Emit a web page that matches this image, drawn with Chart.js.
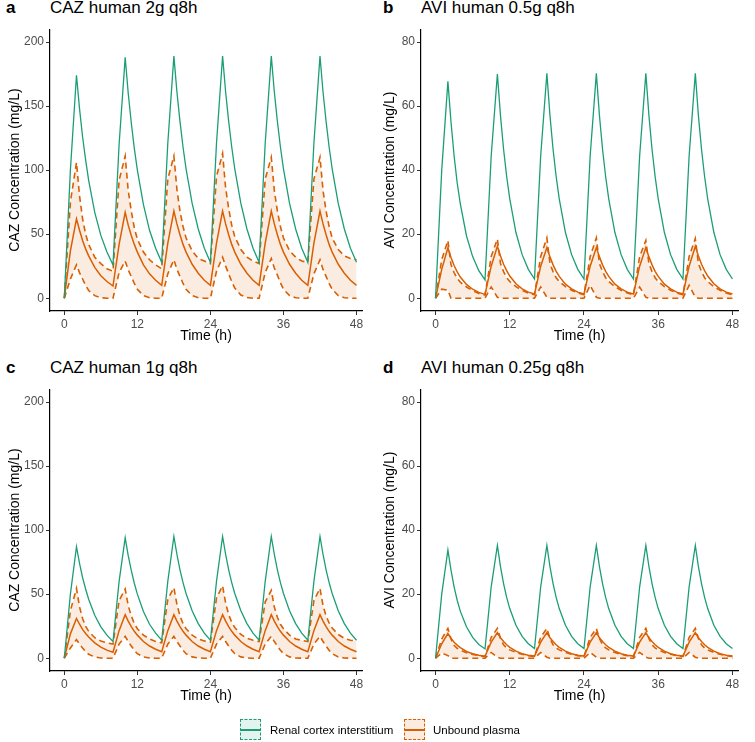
<!DOCTYPE html>
<html>
<head>
<meta charset="utf-8">
<script src="https://cdn.jsdelivr.net/npm/chart.js@4.4.1/dist/chart.umd.min.js"></script>
<style>
  body { margin: 0; background: #fff; font-family: "Liberation Sans", Arial, sans-serif; }
  #page { position: relative; width: 755px; height: 742px; overflow: hidden; }
  canvas { position: absolute; }
  .tag { position: absolute; font-size: 17px; line-height: 16px; font-weight: bold; color: #000; }
  .ttl { position: absolute; font-size: 17px; line-height: 16px; color: #000; white-space: nowrap; }
  .key { position: absolute; width: 19px; height: 19px; border: 1.5px dashed; }
  .key i { position: absolute; left: 0; right: 0; top: 9px; height: 1.5px; }
  .lab { position: absolute; top: 723px; font-size: 11.5px; line-height: 14px; color: #000; white-space: nowrap; }
</style>
</head>
<body>
<div id="page">
  <div class="tag" style="left:6px;top:0px">a</div>
  <div class="ttl" style="left:50px;top:0px">CAZ human 2g q8h</div>
  <div class="tag" style="left:383px;top:0px">b</div>
  <div class="ttl" style="left:421px;top:0px">AVI human 0.5g q8h</div>
  <div class="tag" style="left:6px;top:359.5px">c</div>
  <div class="ttl" style="left:50px;top:359.5px">CAZ human 1g q8h</div>
  <div class="tag" style="left:383px;top:359.5px">d</div>
  <div class="ttl" style="left:421px;top:359.5px">AVI human 0.25g q8h</div>

  <canvas id="pa" width="377" height="340" style="left:0px;top:20px"></canvas>
  <canvas id="pb" width="378" height="340" style="left:377px;top:20px"></canvas>
  <canvas id="pc" width="377" height="340" style="left:0px;top:380px"></canvas>
  <canvas id="pd" width="378" height="340" style="left:377px;top:380px"></canvas>

  <div class="key" style="left:240px;top:719px;border-color:#1b9e77;background:rgba(27,158,119,0.12)"><i style="background:#1b9e77"></i></div>
  <div class="lab" style="left:270px">Renal cortex interstitium</div>
  <div class="key" style="left:404px;top:719px;border-color:#d95f02;background:rgba(217,95,2,0.12)"><i style="background:#d95f02"></i></div>
  <div class="lab" style="left:433px">Unbound plasma</div>
</div>
<script>
// sampling times (h); denser just after each peak where the curves bend most
const hours = [0, 1, 2, 2.5, 3, 3.5, 4, 5, 6, 7,
  8, 9, 10, 10.5, 11, 11.5, 12, 13, 14, 15,
  16, 17, 18, 18.5, 19, 19.5, 20, 21, 22, 23,
  24, 25, 26, 26.5, 27, 27.5, 28, 29, 30, 31,
  32, 33, 34, 34.5, 35, 35.5, 36, 37, 38, 39,
  40, 41, 42, 42.5, 43, 43.5, 44, 45, 46, 47,
  48];
const xTicks = [0, 12, 24, 36, 48];
const cazTicks = [0, 50, 100, 150, 200];
const aviTicks = [0, 20, 40, 60, 80];

// CAZ 2g q8h
const caz2gRenal = [0, 100, 174, 148, 126, 108, 92, 67, 49, 36,
  26, 120, 188, 160, 137, 117, 100, 73, 53, 39,
  28, 121, 189, 161, 138, 118, 101, 74, 54, 39,
  28, 121, 189, 161, 138, 118, 101, 74, 54, 39,
  28, 121, 189, 161, 138, 118, 101, 74, 54, 39,
  28, 121, 189, 161, 138, 118, 101, 74, 54, 39,
  28];
const caz2gMed = [0, 37, 62, 53, 45, 38.5, 33, 24, 17.5, 13,
  9.5, 42, 67, 57, 49, 42, 36, 26, 19, 14,
  10, 43, 68, 58, 49.5, 42, 36, 26.5, 19.5, 14,
  10, 43, 68, 58, 49.5, 42, 36, 26.5, 19.5, 14,
  10, 43, 68, 58, 49.5, 42, 36, 26.5, 19.5, 14,
  10, 43, 68, 58, 49.5, 42, 36, 26.5, 19.5, 14,
  10];
const caz2gHi = [0, 75, 106, 80, 62, 50, 42, 32, 27, 23,
  21, 92, 111, 84, 68, 55, 46, 36, 30, 26,
  23, 93, 111, 85, 68, 56, 47, 37, 31, 29,
  27, 95, 113, 86, 70, 57, 48, 38, 32, 29,
  27, 93, 110, 84, 68, 56, 47, 37, 32, 29,
  28, 93, 110, 84, 68, 56, 47, 38, 33, 31,
  30];
const caz2gLo = [0, 15, 26, 20, 15, 10, 6, 2, 0.3, 0,
  0, 20, 29, 22, 17, 11.5, 7, 2, 0.3, 0,
  0, 19, 30, 22.5, 17, 11.5, 7, 2, 0.3, 0,
  0, 21, 32, 25, 19, 13, 8, 2.5, 0.5, 0,
  0, 20, 31, 23.5, 18, 12, 7, 2, 0.3, 0,
  0, 19, 30, 22.5, 17, 11.5, 7, 2, 0.3, 0,
  0];

// AVI 0.5g q8h
const avi05Renal = [0, 40, 67.7, 55, 44.5, 36, 29.5, 19.5, 13, 8.6,
  5.7, 44.5, 70, 57, 46.5, 38, 31, 20.5, 13.6, 9,
  6, 44.5, 70.2, 57, 46.5, 38, 31, 20.5, 13.6, 9,
  6, 44.5, 70.2, 57, 46.5, 38, 31, 20.5, 13.6, 9,
  6, 44.5, 70.2, 57, 46.5, 38, 31, 20.5, 13.6, 9,
  6, 44.5, 70.2, 57, 46.5, 38, 31, 20.5, 13.6, 9,
  6];
const avi05Med = [0, 9, 15.7, 12.7, 10.2, 8.2, 6.6, 4.3, 2.8, 1.8,
  1.2, 10, 16.2, 13.2, 10.6, 8.6, 6.9, 4.5, 2.9, 1.9,
  1.3, 10, 15.8, 12.9, 10.4, 8.4, 6.8, 4.4, 2.9, 1.9,
  1.3, 10, 15.8, 12.9, 10.4, 8.4, 6.8, 4.4, 2.9, 1.9,
  1.3, 10, 15.8, 12.9, 10.4, 8.4, 6.8, 4.4, 2.9, 1.9,
  1.3, 10, 16.2, 13.2, 10.6, 8.6, 6.9, 4.5, 2.9, 1.9,
  1.3];
const avi05Hi = [0, 12, 18, 10.5, 8, 6.2, 5, 3.5, 2.4, 1.5,
  1.0, 13, 18.5, 10.8, 8.3, 6.4, 5.2, 3.6, 2.5, 1.6,
  1.1, 13, 18.8, 10.8, 8.3, 6.4, 5.2, 3.6, 2.5, 1.6,
  1.1, 13, 18.8, 10.8, 8.3, 6.4, 5.2, 3.6, 2.5, 1.6,
  1.1, 13, 18, 10.8, 8.3, 6.4, 5.2, 3.6, 2.5, 1.6,
  1.1, 13, 18.6, 10.8, 8.3, 6.4, 5.2, 3.6, 2.5, 1.6,
  1.1];
const avi05Lo = [0, 2.8, 2.5, 0, 0, 0, 0, 0, 0, 0,
  0, 3.5, 0.3, 0, 0, 0, 0, 0, 0, 0,
  0, 3.5, 0.3, 0, 0, 0, 0, 0, 0, 0,
  0, 4, 0.3, 0, 0, 0, 0, 0, 0, 0,
  0, 3.5, 0.3, 0, 0, 0, 0, 0, 0, 0,
  0, 4, 0.3, 0, 0, 0, 0, 0, 0, 0,
  0];

// CAZ 1g q8h
const caz1gRenal = [0, 50, 87, 74, 63, 54, 46, 33.5, 24.5, 18,
  13, 60, 94, 80, 68.5, 58.5, 50, 36.5, 26.5, 19.5,
  14, 60, 95, 81, 69, 59, 50.5, 37, 27, 19.5,
  14, 60, 95, 81, 69, 59, 50.5, 37, 27, 19.5,
  14, 60, 95, 81, 69, 59, 50.5, 37, 27, 19.5,
  14, 60, 95, 81, 69, 59, 50.5, 37, 27, 19.5,
  14];
const caz1gMed = [0, 19, 31, 26.5, 22.5, 19.3, 16.5, 12, 8.7, 6.3,
  4.6, 21.5, 34, 29, 24.7, 21, 18, 13, 9.5, 7,
  5, 21.5, 34, 29, 24.7, 21, 18, 13, 9.5, 7,
  5, 21.5, 34, 29, 24.7, 21, 18, 13, 9.5, 7,
  5, 21.5, 34, 29, 24.7, 21, 18, 13, 9.5, 7,
  5, 21.5, 34, 29, 24.7, 21, 18, 13, 9.5, 7,
  5];
const caz1gHi = [0, 37, 54.5, 40, 31, 25, 21, 16, 13.5, 12,
  11, 45, 54, 41, 33, 27, 23, 18, 15, 13,
  12, 46, 55, 42, 33, 27, 23, 18, 15, 13.5,
  12.5, 47, 56.5, 43, 34, 28, 24, 18.5, 15.5, 14,
  13, 44, 53, 40, 32, 26.5, 23, 18, 15, 14,
  13, 45, 54.5, 41, 33, 27.5, 23.5, 18.5, 15.5, 14,
  13.5];
const caz1gLo = [0, 8, 14.5, 11, 8, 5.3, 3, 1, 0.2, 0,
  0, 11, 17, 13, 9.5, 6.2, 3.5, 1, 0.2, 0,
  0, 11, 17, 13, 9.5, 6.2, 3.5, 1, 0.2, 0,
  0, 11, 17, 13, 9.5, 6.2, 3.5, 1, 0.2, 0,
  0, 11, 17, 13, 9.5, 6.2, 3.5, 1, 0.2, 0,
  0, 11, 17, 13, 9.5, 6.2, 3.5, 1, 0.2, 0,
  0];

// AVI 0.25g q8h
const avi025Renal = [0, 20, 33.8, 27.5, 22.3, 18.1, 14.7, 9.8, 6.5, 4.3,
  2.9, 22.3, 35.2, 28.6, 23.3, 19, 15.5, 10.3, 6.8, 4.5,
  3, 22.3, 35.2, 28.6, 23.3, 19, 15.5, 10.3, 6.8, 4.5,
  3, 22.3, 35.2, 28.6, 23.3, 19, 15.5, 10.3, 6.8, 4.5,
  3, 22.3, 35.2, 28.6, 23.3, 19, 15.5, 10.3, 6.8, 4.5,
  3, 22.3, 35.2, 28.6, 23.3, 19, 15.5, 10.3, 6.8, 4.5,
  3];
const avi025Med = [0, 4.5, 7.7, 6.2, 5, 4.1, 3.3, 2.1, 1.4, 0.9,
  0.6, 5, 8, 6.4, 5.2, 4.2, 3.4, 2.2, 1.4, 0.95,
  0.65, 5, 8, 6.4, 5.2, 4.2, 3.4, 2.2, 1.4, 0.95,
  0.65, 5, 8, 6.4, 5.2, 4.2, 3.4, 2.2, 1.4, 0.95,
  0.65, 5, 8, 6.4, 5.2, 4.2, 3.4, 2.2, 1.4, 0.95,
  0.65, 5, 8, 6.4, 5.2, 4.2, 3.4, 2.2, 1.4, 0.95,
  0.65];
const avi025Hi = [0, 6, 9.3, 6, 4, 3.1, 2.5, 1.7, 1.2, 0.8,
  0.5, 6.5, 9.3, 6.2, 4.2, 3.2, 2.6, 1.8, 1.2, 0.8,
  0.55, 6.5, 9.3, 6.2, 4.2, 3.2, 2.6, 1.8, 1.2, 0.8,
  0.55, 6.5, 9.3, 6.2, 4.2, 3.2, 2.6, 1.8, 1.2, 0.8,
  0.55, 6.5, 9.3, 6.2, 4.2, 3.2, 2.6, 1.8, 1.2, 0.8,
  0.55, 6.5, 9.3, 6.2, 4.2, 3.2, 2.6, 1.8, 1.2, 0.8,
  0.55];
const avi025Lo = [0, 1.6, 0.8, 0, 0, 0, 0, 0, 0, 0,
  0, 1.8, 0.3, 0, 0, 0, 0, 0, 0, 0,
  0, 1.8, 0.3, 0, 0, 0, 0, 0, 0, 0,
  0, 1.8, 0.3, 0, 0, 0, 0, 0, 0, 0,
  0, 1.8, 0.3, 0, 0, 0, 0, 0, 0, 0,
  0, 1.8, 0.3, 0, 0, 0, 0, 0, 0, 0,
  0];

const green = "#1b9e77";
const orange = "#d95f02";
const font = "'Liberation Sans', Arial, sans-serif";

function pts(vals) {
  return vals.map((v, i) => ({ x: hours[i], y: v }));
}

function panel(id, yLabel, yTicks, yAxisWidth, padRight, titlePad, renal, med, hi, lo) {
  const yMax = yTicks[yTicks.length - 1];
  new Chart(document.getElementById(id), {
    type: "line",
    data: {
      datasets: [
        { data: pts(renal), borderColor: green, borderWidth: 1.3 },
        { data: pts(med), borderColor: orange, borderWidth: 1.5 },
        { data: pts(hi), borderColor: orange, borderWidth: 1.6, borderDash: [6, 4],
          fill: "+1", backgroundColor: "rgba(217,95,2,0.12)" },
        { data: pts(lo), borderColor: orange, borderWidth: 1.6, borderDash: [6, 4] }
      ]
    },
    options: {
      responsive: false,
      animation: false,
      events: [],
      layout: { padding: { top: 3.6, right: padRight, left: 0, bottom: 0 } },
      elements: { point: { radius: 0 }, line: { tension: 0 } },
      plugins: { legend: { display: false }, tooltip: { enabled: false } },
      scales: {
        x: {
          type: "linear",
          min: -2.35,
          max: 48.9,
          afterBuildTicks: s => { s.ticks = xTicks.map(v => ({ value: v })); },
          afterFit: s => { s.height = 49; },
          grid: { drawOnChartArea: false, tickLength: 4, color: "#333" },
          border: { color: "#000", width: 1.2 },
          ticks: { color: "#4d4d4d", font: { size: 12, family: font }, padding: 2, maxRotation: 0 },
          title: { display: true, text: "Time (h)", color: "#000",
                   font: { size: 14, family: font }, padding: { top: 0, bottom: 15.6 } }
        },
        y: {
          min: -yMax * 0.05,
          max: yMax * 1.05,
          afterBuildTicks: s => { s.ticks = yTicks.map(v => ({ value: v })); },
          afterFit: s => { s.width = yAxisWidth; },
          grid: { drawOnChartArea: false, tickLength: 4, color: "#333" },
          border: { color: "#000", width: 1.2 },
          ticks: { color: "#4d4d4d", font: { size: 12, family: font }, padding: 2 },
          title: { display: true, text: yLabel, color: "#000",
                   font: { size: 14, family: font }, padding: { top: titlePad, bottom: 0 } }
        }
      }
    }
  });
}

panel("pa", "CAZ Concentration (mg/L)", cazTicks, 50, 15, 6.6, caz2gRenal, caz2gMed, caz2gHi, caz2gLo);
panel("pb", "AVI Concentration (mg/L)", aviTicks, 44, 17, 4.6, avi05Renal, avi05Med, avi05Hi, avi05Lo);
panel("pc", "CAZ Concentration (mg/L)", cazTicks, 50, 15, 6.6, caz1gRenal, caz1gMed, caz1gHi, caz1gLo);
panel("pd", "AVI Concentration (mg/L)", aviTicks, 44, 17, 4.6, avi025Renal, avi025Med, avi025Hi, avi025Lo);
</script>
</body>
</html>
